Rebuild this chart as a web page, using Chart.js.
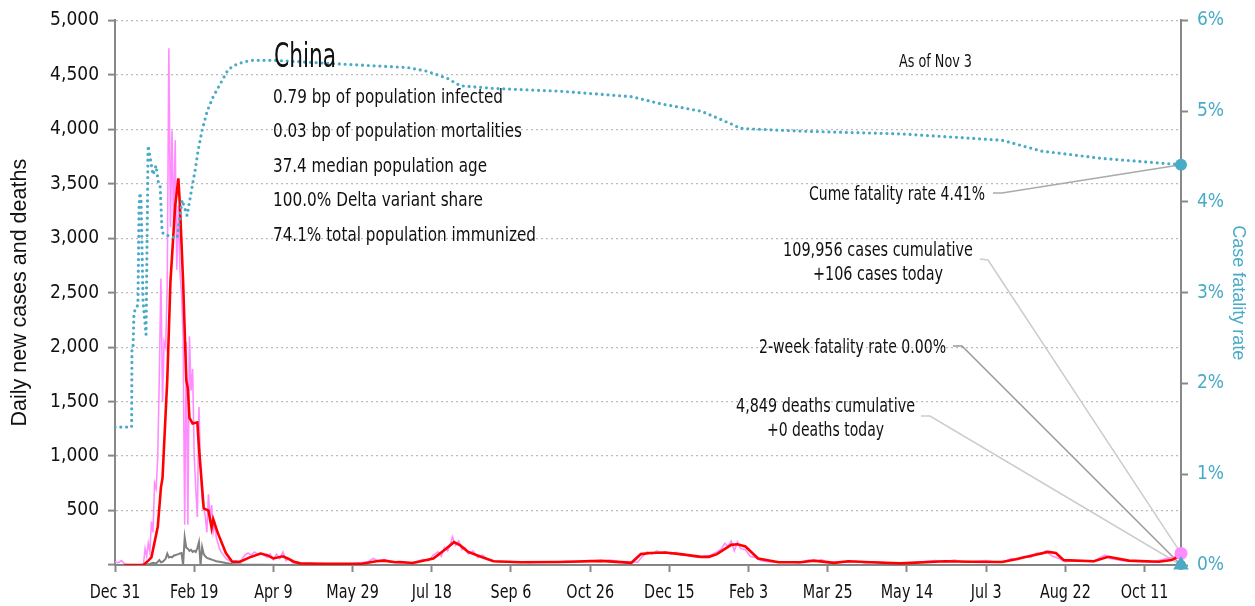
<!DOCTYPE html>
<html>
<head>
<meta charset="utf-8">
<script src="https://cdn.jsdelivr.net/npm/chart.js@4.4.1/dist/chart.umd.min.js"></script>
<style>
  html, body { margin: 0; padding: 0; background: #fff; }
  #wrap { width: 1255px; height: 606px; position: relative; }
</style>
</head>
<body>
<div id="wrap"><canvas id="c" width="1255" height="606"></canvas></div>
<script>
// ---- Data (day index counted from Dec 31, 2019) ----
const tickDays = [0, 50, 100, 150, 200, 250, 300, 350, 400, 450, 500, 550, 600, 650];
const tickLabels = ["Dec 31", "Feb 19", "Apr 9", "May 29", "Jul 18", "Sep 6", "Oct 26", "Dec 15", "Feb 3", "Mar 25", "May 14", "Jul 3", "Aug 22", "Oct 11"];
const lastDay = 673;

// daily new cases [day, cases]
const casesDaily = [
  [0,30],[2,20],[4,40],[6,10],[8,0],[16,0],[18,10],[19,150],[20,80],[21,200],[22,120],[23,400],[24,300],[25,750],[26,700],[27,1000],[28,1750],[29,2630],[30,1500],[31,2050],[32,2000],[33,2600],[34,4745],[35,3100],[36,3990],
  [37,3100],[38,3900],[39,2710],[40,3300],[41,2700],[42,2500],[43,2100],[44,370],[45,2050],[46,370],[47,2100],[48,1600],[49,1800],[50,1000],[51,700],[52,440],[53,1450],[54,900],[55,600],[56,520],[57,450],[58,300],[59,650],[60,420],[61,550],[62,300],[63,380],[64,250],[65,200],[66,150],[67,120],[68,100],[70,60],[72,40],[74,30],[76,40],[78,20],[80,50],[82,90],[84,110],[86,90],[88,120],[90,100],[92,110],[94,90],[96,70],[98,100],[100,50],[102,100],[104,60],[106,120],[108,40],[110,60],[112,20],[115,15],[120,10],[125,5],[130,15],[135,8],[140,12],[145,5],[150,10],[155,20],[160,30],[163,60],[166,40],[170,50],[173,30],[177,25],[180,20],[185,15],[190,30],[194,50],[198,40],[201,90],[204,120],[206,80],[208,160],[210,130],[212,200],[213,260],[215,180],[217,220],[219,140],[221,160],[223,100],[226,130],[229,70],[232,90],[235,50],[238,40],[242,30],[248,25],[255,30],[262,20],[270,30],[278,25],[285,35],[292,30],[300,40],[306,30],[312,45],[318,35],[324,30],[330,25],[333,80],[336,120],[339,100],[342,130],[345,110],[348,120],[351,100],[354,115],[357,90],[360,95],[364,80],[368,70],[372,80],[376,90],[380,120],[383,150],[385,200],[387,170],[389,220],[391,130],[393,210],[395,150],[398,140],[401,80],[404,70],[408,40],[412,30],[418,25],[425,30],[432,20],[438,45],[442,30],[446,50],[450,20],[456,30],[462,25],[468,35],[474,20],[480,30],[490,15],[500,20],[510,30],[518,40],[524,30],[530,45],[536,25],[542,30],[550,40],[556,25],[562,35],[566,60],[570,50],[574,80],[578,70],[582,110],[585,100],[588,130],[590,100],[592,80],[596,60],[600,30],[606,40],[612,35],[618,30],[622,70],[625,90],[628,60],[632,50],[636,40],[642,35],[648,30],[654,25],[660,45],[664,60],[668,70],[671,80],[673,106]
];

// 7-day average of new cases [day, cases]
const casesAvg = [
  [6,0],[18,0],[21,40],[23,70],[27,350],[29,710],[30,800],[33,1700],[35,2600],[38,3300],[40,3550],[41,3300],[43,2600],[45,1700],[46,1620],[47,1350],[49,1300],[52,1310],[53,1075],[55,710],[56,520],[59,500],[61,340],[62,420],[65,290],[70,110],[74,30],[79,30],[85,70],[92,105],[96,90],[100,60],[106,80],[109,60],[113,30],[117,15],[130,10],[155,10],[165,35],[170,40],[177,25],[180,27],[188,18],[201,60],[209,150],[214,210],[218,180],[223,120],[231,75],[239,35],[256,25],[281,28],[307,38],[326,20],[332,100],[338,110],[347,115],[357,100],[370,75],[375,75],[380,100],[389,185],[393,190],[398,170],[406,60],[419,25],[433,25],[441,40],[454,20],[463,35],[477,25],[496,15],[524,35],[541,30],[560,28],[568,50],[577,80],[589,120],[594,110],[599,45],[618,35],[627,75],[640,40],[659,30],[667,45],[673,90]
];

// daily new deaths [day, deaths]
const deathsDaily = [
  [0,0],[17,0],[20,5],[22,10],[24,20],[26,15],[28,45],[29,25],[30,30],[31,40],[32,60],[33,105],[34,70],[35,75],[36,70],[37,85],[38,90],[39,95],[40,100],[41,105],[42,110],[43,0],[44,255],[45,160],[46,150],[47,130],[48,140],[49,120],[50,130],[51,120],[52,155],[53,210],[54,0],[55,165],[56,100],[57,80],[58,65],[60,55],[62,45],[64,35],[66,30],[70,18],[74,10],[80,5],[90,3],[110,1],[673,0]
];

// cumulative case fatality rate, % [day, pct]
const cfrPct = [
  [0,1.52],[10.5,1.52],[10.7,2.38],[11.4,2.4],[12,2.79],[13.9,2.83],[14.5,2.9],[15.2,3.96],[15.8,4.1],[16.5,4.0],[17.7,2.9],[19.6,2.54],[20.9,4.62],[22.1,4.5],[24,4.3],[25.9,4.4],[27.5,4.2],[28.5,4.17],[29.7,3.69],[30.4,3.65],[34.8,3.62],[39.2,3.6],[42.4,4.02],[45.5,3.85],[48.7,4.17],[50.6,4.35],[52.5,4.57],[55,4.79],[58.2,5.0],[62,5.16],[66.4,5.3],[71.5,5.46],[77.1,5.52],[85.4,5.56],[100,5.56],[142,5.52],[185,5.48],[197,5.44],[210,5.36],[218,5.28],[240,5.25],[281,5.22],[326,5.16],[345,5.08],[370,5.0],[389,4.86],[395,4.81],[433,4.78],[496,4.75],[560,4.68],[585,4.56],[623,4.48],[673,4.41]
];
const twoWeekCfr = 0.00;

const infoTitle = "China";
const infoLines = ["0.79 bp of population infected", "0.03 bp of population mortalities", "37.4 median population age", "100.0% Delta variant share", "74.1% total population immunized"];
const asOfText = "As of Nov 3";
const noteCfr = "Cume fatality rate 4.41%";
const noteCases = ["109,956 cases cumulative", "+106 cases today"];
const note2wk = "2-week fatality rate 0.00%";
const noteDeaths = ["4,849 deaths cumulative", "+0 deaths today"];

// ---- Styles ----
const NARROW = "'Liberation Sans Narrow', 'DejaVu Sans Condensed', 'Arial Narrow', sans-serif";
const REG = "'Liberation Sans', Arial, sans-serif";
const PINK = '#ff8cff', RED = '#ff0000', GRAY = '#808080', TEAL = '#4aabc6', AXIS = '#888888';

const toXY = arr => arr.map(p => ({x: p[0], y: p[1]}));
const last = arr => arr[arr.length - 1];

// draw text squeezed horizontally to a target width (or by a factor)
function drawFit(ctx, text, x, y, align, size, opts) {
  ctx.save();
  ctx.font = `${size}px ${NARROW}`;
  ctx.fillStyle = opts.color || '#111';
  ctx.textBaseline = 'alphabetic';
  const w = ctx.measureText(text).width;
  const sx = opts.width ? Math.min(1, opts.width / w) : (opts.sx || 1);
  const drawnW = w * sx;
  let left = x;
  if (align === 'center') left = x - drawnW / 2;
  else if (align === 'right') left = x - drawnW;
  ctx.translate(left, y);
  ctx.scale(sx, 1);
  ctx.textAlign = 'left';
  ctx.fillText(text, 0, 0);
  ctx.restore();
}

const annotations = {
  id: 'annotations',
  beforeDatasetsDraw(chart) {
    const {ctx, scales: {x, y, y2}} = chart;
    const ex = x.getPixelForValue(lastDay);
    const casesPt = {x: ex, y: y.getPixelForValue(last(casesDaily)[1])};
    const cfrPt = {x: ex, y: y2.getPixelForValue(last(cfrPct)[1])};
    const wkPt = {x: ex, y: y2.getPixelForValue(twoWeekCfr)};
    const deathPt = {x: ex, y: y.getPixelForValue(last(deathsDaily)[1])};
    const lines = [
      {pts: [[993,193],[1002,193],[cfrPt.x,cfrPt.y]], c: '#aaaaaa'},
      {pts: [[980,259],[988,260],[casesPt.x,casesPt.y]], c: '#cccccc'},
      {pts: [[953,346],[962,346],[wkPt.x,wkPt.y]], c: '#999999'},
      {pts: [[921,416],[930,416],[deathPt.x,deathPt.y]], c: '#cccccc'}
    ];
    ctx.save();
    ctx.lineWidth = 1.5;
    lines.forEach(l => {
      ctx.strokeStyle = l.c;
      ctx.beginPath();
      l.pts.forEach((p, i) => i ? ctx.lineTo(p[0], p[1]) : ctx.moveTo(p[0], p[1]));
      ctx.stroke();
    });
    ctx.restore();
  },
  afterDraw(chart) {
    const {ctx, scales: {x}} = chart;
    // x tick labels
    tickDays.forEach((d, i) => drawFit(ctx, tickLabels[i], x.getPixelForValue(d), 598, 'center', 19, {sx: 0.84}));
    // info block
    drawFit(ctx, infoTitle, 274, 67, 'left', 33, {width: 62});
    const base = [103, 137, 171.5, 206, 240.5];
    const widths = [230, 249, 214, 210, 263];
    infoLines.forEach((t, i) => drawFit(ctx, t, 273, base[i], 'left', 20, {width: widths[i]}));
    drawFit(ctx, asOfText, 935.5, 67, 'center', 18, {width: 73});
    // end notes
    drawFit(ctx, noteCfr, 985, 200, 'right', 20, {width: 176});
    drawFit(ctx, noteCases[0], 878, 256, 'center', 20, {width: 190});
    drawFit(ctx, noteCases[1], 878, 280, 'center', 20, {width: 130});
    drawFit(ctx, note2wk, 946, 353, 'right', 20, {width: 187});
    drawFit(ctx, noteDeaths[0], 825.5, 412, 'center', 20, {width: 179});
    drawFit(ctx, noteDeaths[1], 825.5, 436, 'center', 20, {width: 117});
  }
};

new Chart(document.getElementById('c'), {
  type: 'line',
  data: {
    datasets: [
      {label: 'cfrEnd', data: [{x: lastDay, y: last(cfrPct)[1]}], yAxisID: 'y2', showLine: false, pointRadius: 6, pointBackgroundColor: TEAL, pointBorderWidth: 0, clip: false, order: 0},
      {label: 'wkEnd', data: [{x: lastDay, y: twoWeekCfr}], yAxisID: 'y2', showLine: false, pointStyle: 'triangle', pointRadius: 9, pointBackgroundColor: TEAL, pointBorderWidth: 0, clip: false, order: 0},
      {label: 'casesEnd', data: [{x: lastDay, y: last(casesDaily)[1]}], yAxisID: 'y', showLine: false, pointRadius: 6.5, pointBackgroundColor: PINK, pointBorderWidth: 0, clip: false, order: 1},
      {label: 'deathsEnd', data: [{x: lastDay, y: last(deathsDaily)[1]}], yAxisID: 'y', showLine: false, pointRadius: 5, pointBackgroundColor: GRAY, pointBorderWidth: 0, clip: false, order: 1},
      {label: 'CFR', data: toXY(cfrPct), yAxisID: 'y2', borderColor: TEAL, borderWidth: 3.2, borderDash: [0, 5.8], borderCapStyle: 'round', pointRadius: 0, fill: false, order: 2},
      {label: 'Cases 7d', data: toXY(casesAvg), yAxisID: 'y', borderColor: RED, borderWidth: 2.6, pointRadius: 0, fill: false, order: 3},
      {label: 'Deaths', data: toXY(deathsDaily), yAxisID: 'y', borderColor: GRAY, borderWidth: 2, pointRadius: 0, fill: false, order: 4},
      {label: 'Cases', data: toXY(casesDaily), yAxisID: 'y', borderColor: PINK, borderWidth: 1.6, pointRadius: 0, fill: false, order: 5}
    ]
  },
  options: {
    responsive: false,
    animation: false,
    devicePixelRatio: 1,
    layout: {padding: {top: 16, left: 0, right: 0, bottom: 0}},
    plugins: {legend: {display: false}, tooltip: {enabled: false}},
    elements: {line: {tension: 0}},
    scales: {
      x: {
        type: 'linear', min: 0, max: lastDay, position: 'bottom',
        afterBuildTicks: s => { s.ticks = tickDays.map(v => ({value: v})); },
        afterFit: s => { s.height = 41; },
        ticks: {display: false, autoSkip: false, maxRotation: 0},
        grid: {drawOnChartArea: false, drawTicks: true, tickLength: 7, tickColor: AXIS, tickWidth: 2},
        border: {display: true, color: AXIS, width: 2}
      },
      y: {
        type: 'linear', position: 'left', min: 0, max: 5000,
        afterFit: s => { s.width = 115; },
        ticks: {stepSize: 500, padding: 9, color: '#111', font: {family: NARROW, size: 19},
          callback: v => v === 0 ? '' : v.toLocaleString('en-US')},
        grid: {drawOnChartArea: true, color: '#bbbbbb', lineWidth: 1.2, tickLength: 7, tickColor: AXIS, tickWidth: 2, tickBorderDash: []},
        border: {display: true, color: AXIS, width: 2, dash: [2, 3]},
        title: {display: true, text: 'Daily new cases and deaths', color: '#111', font: {family: REG, size: 21.5}, padding: {top: 7, bottom: 0}}
      },
      y2: {
        type: 'linear', position: 'right', min: 0, max: 6,
        afterFit: s => { s.width = 74; },
        ticks: {stepSize: 1, padding: 9, color: TEAL, font: {family: NARROW, size: 19}, callback: v => v + '%'},
        grid: {drawOnChartArea: false, tickLength: 7, tickColor: AXIS, tickWidth: 2},
        border: {display: true, color: AXIS, width: 2},
        title: {display: true, text: 'Case fatality rate', color: TEAL, font: {family: REG, size: 18}, padding: {top: 6, bottom: 0}}
      }
    }
  },
  plugins: [annotations]
});
</script>
</body>
</html>
